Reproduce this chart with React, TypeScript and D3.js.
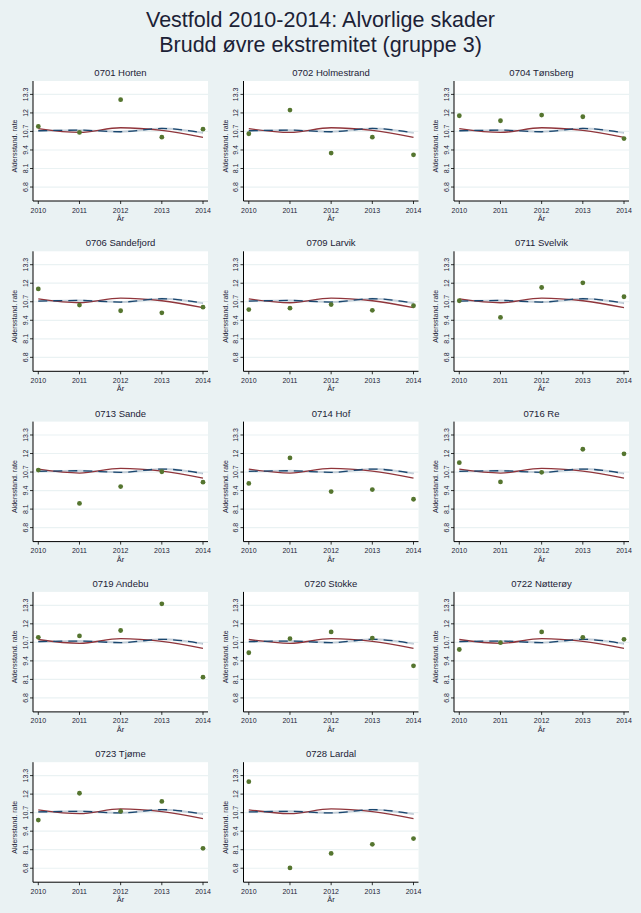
import React from 'react';
import * as d3 from 'd3';

const years = [2010, 2011, 2012, 2013, 2014];
const yTicks = [6.8, 8.1, 9.4, 10.7, 12, 13.3];
const yTickLabels = ['6.8', '8.1', '9.4', '10.7', '12', '13.3'];

const muniNames = [
  '0701 Horten', '0702 Holmestrand', '0704 Tønsberg',
  '0706 Sandefjord', '0709 Larvik', '0711 Svelvik',
  '0713 Sande', '0714 Hof', '0716 Re',
  '0719 Andebu', '0720 Stokke', '0722 Nøtterøy',
  '0723 Tjøme', '0728 Lardal',
];

const muniRates = [
  [11.05, 10.63, 12.93, 10.3, 10.86],
  [10.54, 12.2, 9.18, 10.3, 9.06],
  [11.8, 11.45, 11.85, 11.73, 10.2],
  [11.6, 10.47, 10.07, 9.92, 10.32],
  [10.15, 10.25, 10.5, 10.1, 10.42],
  [10.77, 9.6, 11.7, 12.03, 11.05],
  [10.84, 8.5, 9.68, 10.72, 9.99],
  [9.9, 11.69, 9.33, 9.47, 8.79],
  [11.36, 10.01, 10.68, 12.3, 11.98],
  [11.05, 11.15, 11.53, 13.4, 8.26],
  [9.97, 10.96, 11.43, 11.0, 9.05],
  [10.2, 10.68, 11.43, 11.05, 10.91],
  [10.18, 12.06, 10.8, 11.49, 8.2],
  [12.87, 6.82, 7.84, 8.48, 8.88],
];

const countyRate = [10.9, 10.63, 10.96, 10.77, 10.28];
const nationalRate = [10.75, 10.79, 10.68, 10.91, 10.6];

const BG = '#eaf2f3';
const NAVY = '#1a476f';
const MAROON = '#90353b';
const GREEN = '#55752f';
const TEXT = '#1c2236';
const FONT = '"Liberation Sans", Arial, sans-serif';

export default function App() {
  const W = 641;
  const H = 913;
  const plotW = 175;
  const plotH = 120;
  const colStep = 210.5;
  const rowStep = 170.3;
  const left0 = 33;
  const top0 = 81;

  const x = d3.scaleLinear().domain([2010, 2014]).range([5.3, 170]);
  const y = d3.scaleLinear().domain([5.82, 14.24]).range([plotH, 0]);
  const line = d3
    .line<number>()
    .x((_, i) => x(years[i]))
    .y((d) => y(d))
    .curve(d3.curveMonotoneX);

  return (
    <svg
      width={W}
      height={H}
      style={{ position: 'absolute', left: 0, top: 0, background: BG }}
      fontFamily={FONT}
    >
      <rect x={0} y={0} width={W} height={H} fill={BG} />
      <text x={W / 2} y={27} textAnchor="middle" fontSize={21.5} fill={TEXT}>
        Vestfold 2010-2014: Alvorlige skader
      </text>
      <text x={W / 2} y={51.5} textAnchor="middle" fontSize={21.5} fill={TEXT}>
        Brudd øvre ekstremitet (gruppe 3)
      </text>
      {muniNames.map((name, k) => {
        const col = k % 3;
        const row = Math.floor(k / 3);
        const tx = left0 + col * colStep;
        const ty = top0 + row * rowStep;
        return (
          <g key={name} transform={`translate(${tx},${ty})`}>
            <rect x={0} y={0} width={plotW} height={plotH} fill="#ffffff" />
            {yTicks.map((t) => (
              <line
                key={t}
                x1={0}
                x2={plotW}
                y1={y(t)}
                y2={y(t)}
                stroke={BG}
                strokeWidth={1.2}
              />
            ))}
            <path
              d={line(nationalRate) || ''}
              fill="none"
              stroke="#b9c6d2"
              strokeWidth={2}
              opacity={0.8}
            />
            <path
              d={line(countyRate) || ''}
              fill="none"
              stroke={MAROON}
              strokeWidth={1.3}
            />
            <path
              d={line(nationalRate) || ''}
              fill="none"
              stroke={NAVY}
              strokeWidth={1.3}
              strokeDasharray="9,6"
            />
            {muniRates[k].map((v, i) => (
              <circle key={i} cx={x(years[i])} cy={y(v)} r={2.4} fill={GREEN} />
            ))}
            <line x1={0} x2={0} y1={0} y2={plotH} stroke="#000" strokeWidth={1} />
            <line x1={0} x2={plotW} y1={plotH} y2={plotH} stroke="#000" strokeWidth={1} />
            {yTicks.map((t, i) => (
              <g key={t} transform={`translate(0,${y(t)})`}>
                <line x1={-3} x2={0} y1={0} y2={0} stroke="#000" strokeWidth={0.8} />
                <text
                  transform="translate(-5.5,0) rotate(-90)"
                  textAnchor="middle"
                  fontSize={7}
                  fill={TEXT}
                >
                  {yTickLabels[i]}
                </text>
              </g>
            ))}
            {years.map((yr) => (
              <g key={yr} transform={`translate(${x(yr)},${plotH})`}>
                <line x1={0} x2={0} y1={0} y2={3} stroke="#000" strokeWidth={0.8} />
                <text y={11.5} textAnchor="middle" fontSize={7} fill={TEXT}>
                  {yr}
                </text>
              </g>
            ))}
            <text
              transform={`translate(-16,${plotH / 2 + 5}) rotate(-90)`}
              textAnchor="middle"
              fontSize={7}
              fill={TEXT}
            >
              Aldersstand. rate
            </text>
            <text x={plotW / 2} y={plotH + 20} textAnchor="middle" fontSize={7.5} fill={TEXT}>
              År
            </text>
            <text x={plotW / 2} y={-5} textAnchor="middle" fontSize={9.5} fill={TEXT}>
              {name}
            </text>
          </g>
        );
      })}
    </svg>
  );
}
